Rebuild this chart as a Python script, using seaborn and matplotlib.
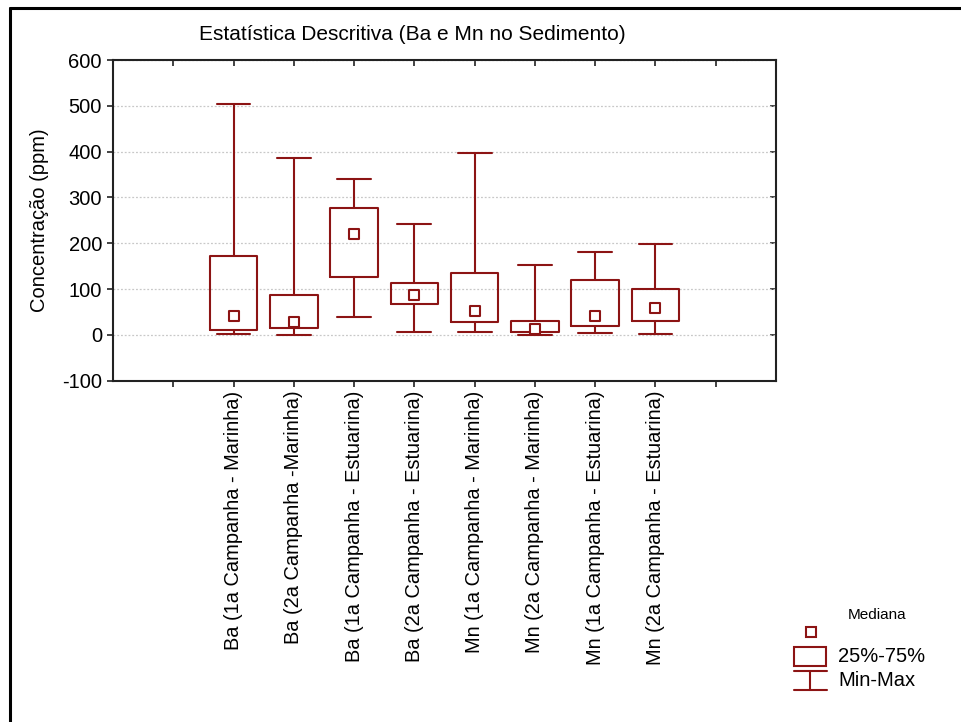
import matplotlib
matplotlib.use("Agg")
import matplotlib.pyplot as plt
import seaborn as sns
import pandas as pd
from matplotlib.patches import Rectangle
from matplotlib.lines import Line2D

# Descriptive statistics per group (ppm)
categories = [
    "Ba (1a Campanha - Marinha)",
    "Ba (2a Campanha -Marinha)",
    "Ba (1a Campanha - Estuarina)",
    "Ba (2a Campanha - Estuarina)",
    "Mn (1a Campanha - Marinha)",
    "Mn (2a Campanha - Marinha)",
    "Mn (1a Campanha - Estuarina)",
    "Mn (2a Campanha - Estuarina)",
]
minimum = [2, 0, 39, 7, 6, 0, 4, 3]
q25 = [11, 14, 127, 67, 28, 7, 20, 30]
median = [42, 29, 220, 86, 52, 12, 42, 59]
q75 = [173, 86, 278, 114, 136, 30, 119, 101]
maximum = [504, 386, 340, 243, 398, 153, 182, 198]

y_ticks = [-100, 0, 100, 200, 300, 400, 500, 600]

RED = "#8c1414"
FONT = ["Liberation Sans", "DejaVu Sans"]

sns.set_style("white")
plt.rcParams["font.family"] = FONT
plt.rcParams.update({"text.color": "black", "axes.labelcolor": "black",
                     "xtick.color": "black", "ytick.color": "black"})

fig = plt.figure(figsize=(9.62, 7.22), dpi=100)
ax = fig.add_axes([113 / 962, 1 - 380.7 / 722, (776 - 113) / 962, (380.7 - 60) / 722])

positions = list(range(2, 2 + len(categories)))
df = pd.DataFrame({"pos": positions, "group": categories, "vmin": minimum,
                   "q1": q25, "med": median, "q3": q75, "vmax": maximum})

stats = [
    {"med": r["med"], "q1": r["q1"], "q3": r["q3"], "whislo": r["vmin"],
     "whishi": r["vmax"], "fliers": [], "label": r["group"]}
    for _, r in df.iterrows()
]
lw = 1.5
ax.bxp(stats, positions=positions, widths=0.79, capwidths=0.56,
       showfliers=False, patch_artist=False,
       boxprops=dict(color=RED, linewidth=lw),
       whiskerprops=dict(color=RED, linewidth=lw),
       capprops=dict(color=RED, linewidth=lw),
       medianprops=dict(linewidth=0, alpha=0))

sns.scatterplot(data=df, x="pos", y="med", ax=ax, marker="s", s=48,
                facecolor="white", edgecolor=RED, linewidth=lw, zorder=5,
                legend=False)

ax.set_xlim(0, 11)
ax.set_ylim(-100, 600)
ax.set_yticks(y_ticks)
ax.set_yticklabels([str(v) for v in y_ticks], fontsize=14.5)
ax.set_xticks(range(1, 11))
ax.set_xticklabels([""] + categories + [""], rotation=90, fontsize=14.4,
                   va="top", ha="center")
ax.set_xlabel("")
ax.set_ylabel("Concentração (ppm)", fontsize=14.5, labelpad=9)

ax.yaxis.grid(True, color="#c8c8c8", linestyle=(0, (1.5, 1.5)), linewidth=0.9)
ax.xaxis.grid(False)
ax.set_axisbelow(True)
for sp in ax.spines.values():
    sp.set_color("#222222")
    sp.set_linewidth(1.5)
    sp.set_visible(True)

ax.tick_params(axis="both", which="major", length=4, width=1.2, color="#222222",
               direction="out", left=True, bottom=True)
ax.tick_params(axis="y", pad=4)
ax.tick_params(axis="x", pad=3)
# inward ticks on the top and right edges
top = ax.secondary_xaxis("top")
top.set_xticks(range(1, 11))
top.set_xticklabels([])
top.tick_params(direction="in", length=4, width=1.2, color="#222222")
top.spines["top"].set_visible(False)
right = ax.secondary_yaxis("right")
right.set_yticks(y_ticks)
right.set_yticklabels([])
right.tick_params(direction="in", length=4, width=1.2, color="#222222")
right.spines["right"].set_visible(False)

fig.text(412.5 / 962, 1 - 35 / 722, "Estatística Descritiva (Ba e Mn no Sedimento)",
         ha="center", va="center", fontsize=15)

# Overlay in pixel coordinates for the legend key and frame
ov = fig.add_axes([0, 0, 1, 1], facecolor="none")
ov.set_xlim(0, 962)
ov.set_ylim(722, 0)
ov.axis("off")
ov.add_line(Line2D([10, 962], [8, 8], color="black", linewidth=2.2))
ov.add_line(Line2D([10, 10], [8, 722], color="black", linewidth=2.2))

ov.text(877.5, 615, "Mediana", ha="center", va="center", fontsize=11)
ov.plot([811], [632], marker="s", markersize=6.5, markerfacecolor="white",
        markeredgecolor=RED, markeredgewidth=lw)
ov.add_patch(Rectangle((794, 647), 32, 19, fill=False, edgecolor=RED, linewidth=lw))
ov.text(838, 656.5, "25%-75%", ha="left", va="center", fontsize=14.5)
ov.add_line(Line2D([794, 827], [670.5, 670.5], color=RED, linewidth=lw))
ov.add_line(Line2D([794, 827], [689.5, 689.5], color=RED, linewidth=lw))
ov.add_line(Line2D([810.5, 810.5], [670.5, 689.5], color=RED, linewidth=lw))
ov.text(838, 680, "Min-Max", ha="left", va="center", fontsize=14.5)

fig.savefig("out.png", dpi=100, facecolor="white")
